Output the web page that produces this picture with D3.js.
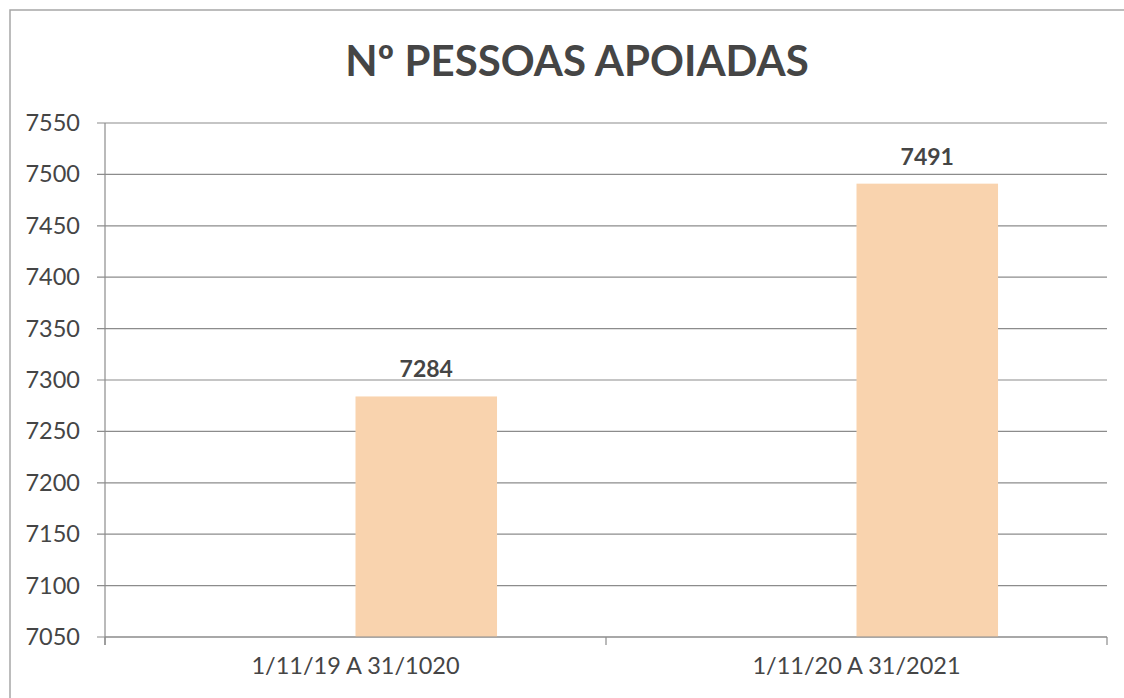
<!DOCTYPE html>
<meta charset="utf-8">
<style>
    body { margin: 0; background: #fff; }
    text { font-family: Lato, "Open Sans", sans-serif; fill: #454545; }
    .axis text { font-size: 23.5px; }
</style>
<svg width="1124" height="698"></svg>
<script src="https://d3js.org/d3.v7.min.js"></script>
<script>
    var categories = ["1/11/19 A 31/1020", "1/11/20 A 31/2021"];
    var series = ["", "Nº pessoas apoiadas"];
    var values = [7284, 7491];
    var yTicks = [7050, 7100, 7150, 7200, 7250, 7300, 7350, 7400, 7450, 7500, 7550];
    var title = "Nº PESSOAS APOIADAS";

    var svg = d3.select("svg");
    var margin = {left: 105, right: 17, top: 123, bottom: 61};
    var width = 1124 - margin.left - margin.right,
        height = 698 - margin.top - margin.bottom;

    // frame of the chart
    svg.append("rect")
        .attr("x", 10).attr("y", 10)
        .attr("width", 1124).attr("height", 700)
        .attr("fill", "none").attr("stroke", "#a6a6a6").attr("stroke-width", 1.5);

    svg.append("text")
        .attr("x", 577).attr("y", 76)
        .attr("text-anchor", "middle")
        .style("font-size", "42px").style("font-weight", "bold")
        .text(title);

    var g = svg.append("g").attr("transform", "translate(" + margin.left + "," + margin.top + ")");

    var x = d3.scaleBand().domain(categories).range([0, width]);
    // the first series is empty, as in the original spreadsheet chart
    var xs = d3.scaleBand().domain(series).range([0, x.bandwidth()]).paddingOuter(0.77).paddingInner(0);
    var y = d3.scaleLinear().domain([7050, 7550]).range([height, 0]);

    // gridlines
    g.selectAll(".grid").data(yTicks).enter().append("line")
        .attr("x1", -8).attr("x2", width)
        .attr("y1", function(d) { return y(d); })
        .attr("y2", function(d) { return y(d); })
        .attr("stroke", "#8c8c8c").attr("stroke-width", 1.2);

    var yAxis = g.append("g").attr("class", "axis")
        .call(d3.axisLeft(y).tickValues(yTicks).tickSize(0).tickPadding(25).tickFormat(d3.format("d")));
    yAxis.select(".domain").remove();
    g.append("line").attr("x1", 0).attr("x2", 0).attr("y1", 0).attr("y2", height + 8)
        .attr("stroke", "#8c8c8c").attr("stroke-width", 1.2);

    g.selectAll(".bar").data(values).enter().append("rect")
        .attr("x", function(d, i) { return x(categories[i]) + xs(series[1]); })
        .attr("width", xs.bandwidth())
        .attr("y", function(d) { return y(d); })
        .attr("height", function(d) { return height - y(d); })
        .attr("fill", "#f9d3ae");

    g.selectAll(".lbl").data(values).enter().append("text")
        .attr("x", function(d, i) { return x(categories[i]) + xs(series[1]) + xs.bandwidth() / 2; })
        .attr("y", function(d) { return y(d) - 19; })
        .attr("text-anchor", "middle")
        .style("font-size", "23px").style("font-weight", "bold")
        .text(function(d) { return d; });

    var xAxis = g.append("g").attr("class", "axis")
        .attr("transform", "translate(0," + height + ")")
        .call(d3.axisBottom(x).tickSize(0).tickPadding(20));
    xAxis.select(".domain").remove();
    g.append("line").attr("x1", 0).attr("x2", width).attr("y1", height).attr("y2", height)
        .attr("stroke", "#8c8c8c").attr("stroke-width", 1.2);
    g.selectAll(".xt").data([0, 1, 2]).enter().append("line")
        .attr("x1", function(d) { return d * x.step(); })
        .attr("x2", function(d) { return d * x.step(); })
        .attr("y1", height).attr("y2", height + 8)
        .attr("stroke", "#8c8c8c").attr("stroke-width", 1.2);
</script>
